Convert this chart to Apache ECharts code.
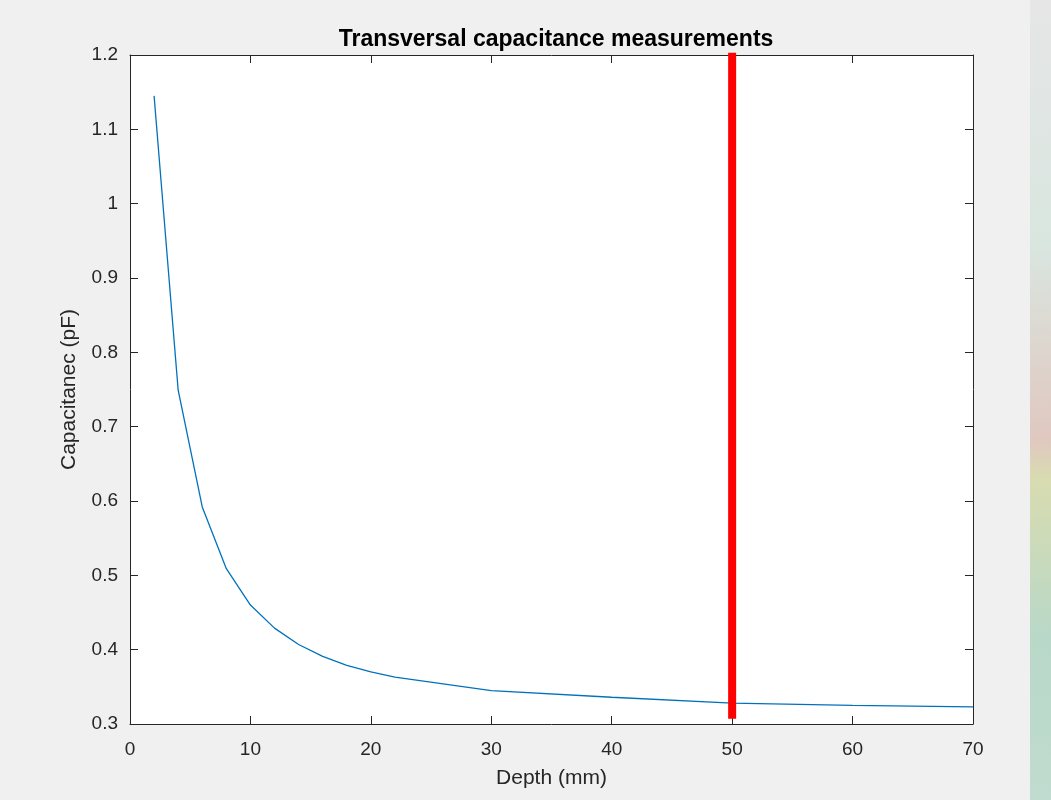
<!DOCTYPE html>
<html>
<head>
<meta charset="utf-8">
<script src="https://cdn.jsdelivr.net/npm/echarts@6/dist/echarts.min.js"></script>
<style>
html,body{margin:0;padding:0;background:#f0f0f0;}
#c{width:1051px;height:800px;}
</style>
</head>
<body>
<div id="c"></div>
<script>
const depth = [2, 4, 6, 8, 10, 12, 14, 16, 18, 20, 22, 30, 40, 50, 60, 70];
const capacitance = [1.145, 0.749, 0.592, 0.509, 0.460, 0.429, 0.407, 0.391, 0.379, 0.370, 0.363, 0.345, 0.336, 0.328, 0.325, 0.323];
const markerX = [50, 50];
const markerY = [0.307, 1.203];
const xTicks = [0, 10, 20, 30, 40, 50, 60, 70];
const yTicks = [0.3, 0.4, 0.5, 0.6, 0.7, 0.8, 0.9, 1, 1.1, 1.2];

const chart = echarts.init(document.getElementById('c'), null, {renderer: 'canvas'});
const txt = '#262626';
const font = 'Liberation Sans, Arial, sans-serif';
const axCommon = {
  axisLine: {show: true, onZero: false, lineStyle: {color: txt, width: 1}},
  axisTick: {show: true, inside: true, length: 8, lineStyle: {color: txt}},
  splitLine: {show: false}
};
chart.setOption({
  backgroundColor: '#f0f0f0',
  animation: false,
  title: {
    text: 'Transversal capacitance measurements',
    left: 551, textAlign: 'center', top: 23,
    textStyle: {fontFamily: font, fontSize: 23, fontWeight: 'bold', color: '#000'}
  },
  graphic: [{
    type: 'rect', left: 1030, top: 0, z: -1,
    shape: {width: 21, height: 800},
    style: {fill: new echarts.graphic.LinearGradient(0, 0, 0, 1, [
      {offset: 0, color: '#e6e6e6'}, {offset: 0.3, color: '#d9e6e0'},
      {offset: 0.55, color: '#e0c8c0'}, {offset: 0.6, color: '#d8dcb0'},
      {offset: 0.8, color: '#b8d8c8'}, {offset: 1, color: '#c0dcd0'}])}
  }],
  grid: {left: 130, right: 78, top: 55, bottom: 76, show: true, backgroundColor: '#fff', borderWidth: 0},
  xAxis: [
    Object.assign({}, axCommon, {
      type: 'value', min: 0, max: 70, interval: 10, position: 'bottom',
      name: 'Depth (mm)', nameLocation: 'middle', nameGap: 44,
      nameTextStyle: {fontFamily: font, fontSize: 21, color: txt},
      axisLabel: {fontFamily: font, fontSize: 19, color: txt, margin: 16,
        formatter: v => xTicks.includes(v) ? String(v) : ''}
    }),
    Object.assign({}, axCommon, {
      type: 'value', min: 0, max: 70, interval: 10, position: 'top',
      axisLabel: {show: false}
    })
  ],
  yAxis: [
    Object.assign({}, axCommon, {
      type: 'value', min: 0.3, max: 1.2, interval: 0.1, position: 'left',
      name: 'Capacitanec (pF)', nameLocation: 'middle', nameGap: 50,
      nameTextStyle: {fontFamily: font, fontSize: 21, color: txt},
      axisLabel: {fontFamily: font, fontSize: 19, color: txt, margin: 12,
        formatter: v => { const r = Math.round(v * 10) / 10; return yTicks.includes(r) ? String(r) : ''; }}
    }),
    Object.assign({}, axCommon, {
      type: 'value', min: 0.3, max: 1.2, interval: 0.1, position: 'right',
      axisLabel: {show: false}
    })
  ],
  series: [
    {
      type: 'line', xAxisIndex: 0, yAxisIndex: 0,
      data: depth.map((d, i) => [d, capacitance[i]]),
      showSymbol: false, symbol: 'none',
      lineStyle: {color: '#0072BD', width: 1.3}
    },
    {
      type: 'line', xAxisIndex: 0, yAxisIndex: 0, clip: false,
      data: markerX.map((d, i) => [d, markerY[i]]),
      showSymbol: false, symbol: 'none', z: 5,
      lineStyle: {color: '#ff0000', width: 8, cap: 'butt'}
    }
  ]
});
</script>
</body>
</html>
